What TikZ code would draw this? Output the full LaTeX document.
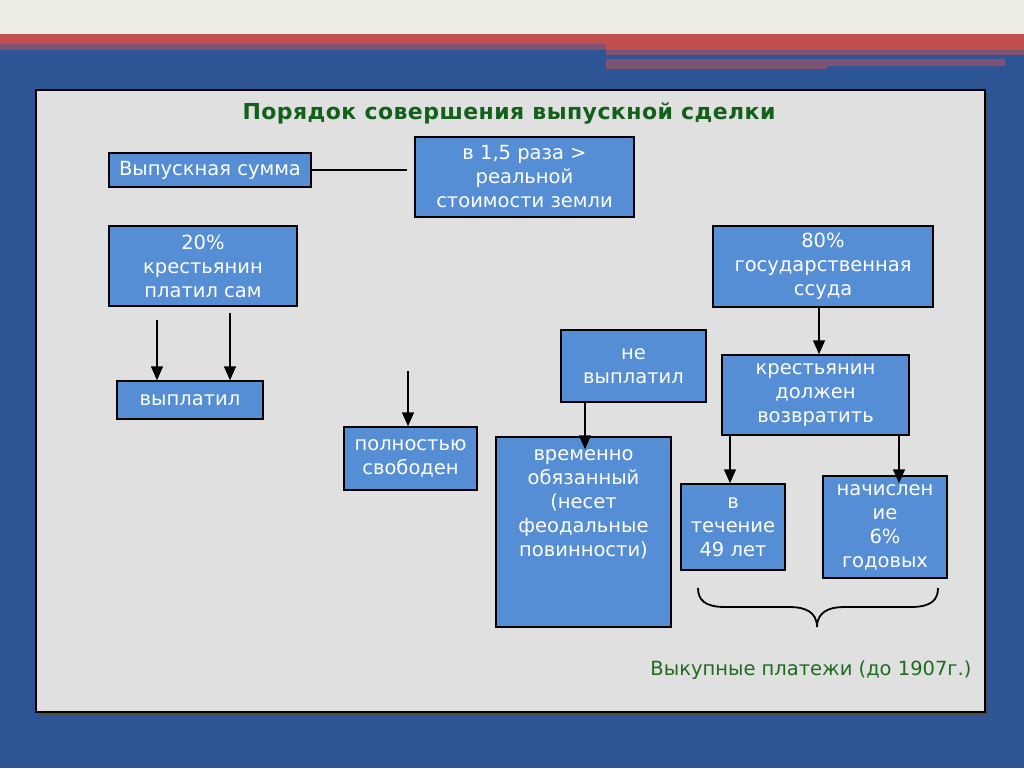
\documentclass[tikz,border=0pt]{standalone}
\usepackage{fontspec}
\setmainfont{DejaVu Sans}
\usetikzlibrary{arrows.meta}
\definecolor{cream}{HTML}{EEEDE3}
\definecolor{bandred}{HTML}{C0504D}
\definecolor{mauve}{HTML}{7D5272}
\definecolor{bgblue}{HTML}{2D5494}
\definecolor{panelgray}{HTML}{E0E0E0}
\definecolor{boxblue}{HTML}{558ED5}
\definecolor{titlegreen}{HTML}{12601A}
\definecolor{notegreen}{HTML}{1E6B1E}
\tikzset{
  box/.style={draw=black, line width=1.5pt, fill=boxblue, text=white, align=center,
    inner sep=0pt, font=\fontsize{19.5}{24}\selectfont},
  arr/.style={line width=1.5pt, -{Triangle[length=14pt,width=12pt]}},
  plain/.style={line width=1.5pt},
}
\begin{document}
\begin{tikzpicture}[x=1pt,y=-1pt]
\useasboundingbox (0,0) rectangle (1024,768);
% background
\fill[cream] (0,0) rectangle (1024,34);
\fill[bandred] (0,34) rectangle (1024,50);
\fill[mauve] (0,44) rectangle (606,50);
\fill[bgblue] (0,50) rectangle (1024,768);
\fill[mauve] (606,50) rectangle (1024,55);
\fill[mauve] (606,59) rectangle (827,69);
\fill[mauve] (827,59) rectangle (1005,66);
% panel
\fill[black!70] (40,94) rectangle (988,715);
\draw[fill=panelgray, line width=2pt] (36,90) rectangle (985,712);
% title
\node[text=titlegreen, font=\fontsize{22}{26}\selectfont\bfseries\addfontfeature{LetterSpace=2}] (title) at (509,113) {Порядок совершения выпускной сделки};
% boxes
\node[box, minimum width=202, minimum height=34] (b1) at (210,170) {Выпускная сумма};
\node[box, minimum width=219, minimum height=80] (b2) at (524.5,177) {в 1,5 раза >\\реальной\\стоимости земли};
\node[box, minimum width=188, minimum height=80] (b3) at (203,266) {20\%\\крестьянин\\платил сам};
\node[box, minimum width=220, minimum height=81] (b4) at (823,266.5) {80\%\\государственная\\ссуда};
\node[box, minimum width=146, minimum height=38] (b5) at (190,400) {выплатил};
\node[box, minimum width=133, minimum height=63] (b6) at (410.5,458.5) {полностью\\свободен};
\node[box, minimum width=145, minimum height=72] (b7) at (633.5,366) {не\\выплатил};
\node[box, minimum width=175, minimum height=190] (b8) at (583.5,532) {\parbox[c][182pt][t]{170pt}{\centering\vspace{9pt}временно\\обязанный\\(несет\\феодальные\\повинности)}};
\node[box, minimum width=187, minimum height=80] (b9) at (815.5,395) {крестьянин\\должен\\возвратить};
\node[box, minimum width=104, minimum height=86] (b10) at (733,527) {в\\течение\\49 лет};
\node[box, minimum width=124, minimum height=102] (b11) at (885,527) {начислен\\ие\\6\%\\годовых};
% bottom text
\node[text=notegreen, font=\fontsize{19.5}{22}\selectfont] (note) at (811,670) {Выкупные платежи (до 1907г.)};
% connectors
\coordinate (c1) at (407,170);
\draw[plain] (b1.east) -- (c1);
\coordinate (a1) at (157,320);
\coordinate (a2) at (230,313);
\coordinate (a3) at (408,371);
\draw[arr] (a1) -- (b5.north -| a1);
\draw[arr] (a2) -- (b5.north -| a2);
\draw[arr] (a3) -- (b6.north -| a3);
\coordinate (x7) at (585,0);
\draw[arr] (b7.south -| x7) -- ([yshift=-13pt]b8.north -| x7);
\coordinate (x4) at (819,0);
\draw[arr] (b4.south -| x4) -- (b9.north -| x4);
\coordinate (x9a) at (730,0);
\coordinate (x9b) at (899,0);
\draw[arr] (b9.south -| x9a) -- (b10.north -| x9a);
\draw[arr] (b9.south -| x9b) -- ([yshift=-8pt]b11.north -| x9b);
% brace
\draw[line width=1.8pt] (698,588) .. controls (698,600) and (705,607) .. (725,607) -- (790,607)
  .. controls (805,607) and (817,612) .. (817,627)
  .. controls (817,612) and (829,607) .. (844,607) -- (911,607)
  .. controls (931,607) and (938,600) .. (938,588);
\end{tikzpicture}
\end{document}
